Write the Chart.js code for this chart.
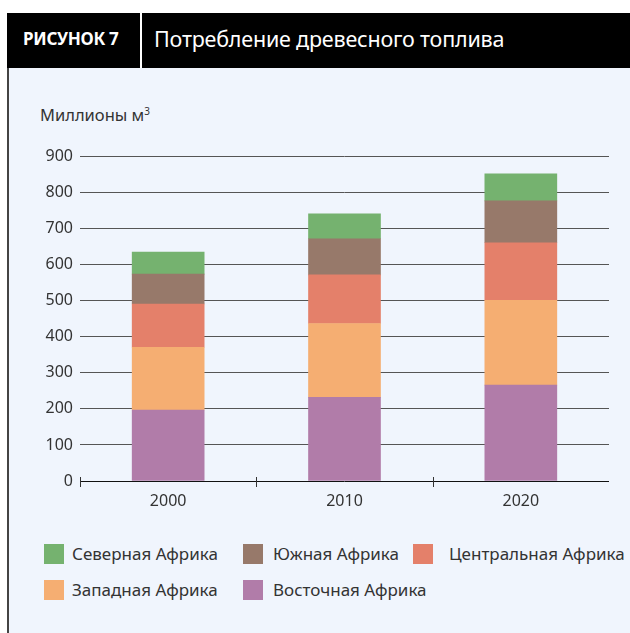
<!DOCTYPE html>
<html>
<head>
<meta charset="utf-8">
<script src="https://cdn.jsdelivr.net/npm/chart.js@4.4.0/dist/chart.umd.min.js"></script>
<style>
  body { margin: 0; background: #fff; font-family: "Noto Sans", sans-serif; }
  #page { position: relative; width: 630px; height: 633px; overflow: hidden; }
  #header { position: absolute; left: 7px; top: 13px; width: 623px; height: 55px; background: #000; color: #fff; }
  #header .fig { position: absolute; left: 16px; top: 14px; font-weight: bold; font-size: 17px; letter-spacing: -0.3px; }
  #header .sep { position: absolute; left: 133px; top: 0; width: 2px; height: 55px; background: #fff; }
  #header .title { position: absolute; left: 147px; top: 11px; font-size: 21.5px; letter-spacing: -0.2px; }
  #panel { position: absolute; left: 7px; top: 68px; width: 623px; height: 565px; background: #f0f5fd; border-left: 2px solid #444; box-sizing: border-box; }
  #unit { position: absolute; left: 40px; top: 103px; font-size: 16.5px; color: #333; }
  #unit sup { font-size: 10px; }
  #wrap { position: absolute; left: 0; top: 140px; width: 630px; height: 373px; }
  #legend { position: absolute; left: 0; top: 0; width: 630px; }
  .item { position: absolute; display: flex; align-items: center; font-size: 17px; color: #333; white-space: nowrap; }
  .item span.box { width: 20px; height: 20px; }
</style>
</head>
<body>
<div id="page">
  <div id="panel"></div>
  <div id="header">
    <div class="fig">РИСУНОК 7</div>
    <div class="sep"></div>
    <div class="title">Потребление древесного топлива</div>
  </div>
  <div id="unit">Миллионы м<sup>3</sup></div>
  <div id="wrap"><canvas id="chart"></canvas></div>
  <div id="legend"></div>
</div>
<script>
// data (million m3)
const years = ['2000', '2010', '2020'];
const yTicks = [0, 100, 200, 300, 400, 500, 600, 700, 800, 900];

const eastAfrica = [197, 232, 266];
const westAfrica = [174, 205, 235];
const centralAfrica = [120, 135, 160];
const southernAfrica = [83, 100, 116];
const northAfrica = [61, 69, 75];

const seriesNames = ['Восточная Африка', 'Западная Африка', 'Центральная Африка', 'Южная Африка', 'Северная Африка'];
const seriesColors = ['#b17ca9', '#f5ae72', '#e4806a', '#97796a', '#75b26f'];
const seriesData = [eastAfrica, westAfrica, centralAfrica, southernAfrica, northAfrica];

// legend order and slots as in the picture: [left, top, gap to text]
const legendOrder = [4, 3, 2, 1, 0];
const legendSlots = [[44, 542, 8], [243, 542, 10], [413, 542, 16], [44, 578, 8], [243, 578, 10]];

// small ticks on the x axis at category boundaries (not at the right end)
const boundaryTicks = {
  id: 'boundaryTicks',
  afterDraw(chart) {
    const ctx = chart.ctx;
    const x = chart.scales.x;
    const y0 = chart.scales.y.getPixelForValue(0);
    const step = x.getPixelForValue(1) - x.getPixelForValue(0);
    ctx.save();
    ctx.strokeStyle = '#333';
    ctx.lineWidth = 1;
    for (let i = 0; i < years.length; i++) {
      const px = Math.round(x.getPixelForValue(i) - step / 2) + 0.5;
      ctx.beginPath();
      ctx.moveTo(px, y0 - 4);
      ctx.lineTo(px, y0 + 6);
      ctx.stroke();
    }
    ctx.restore();
  }
};

const chart = new Chart(document.getElementById('chart'), {
  type: 'bar',
  data: {
    labels: years,
    datasets: seriesData.map((d, i) => ({
      label: seriesNames[i],
      data: d,
      backgroundColor: seriesColors[i],
      borderWidth: 0,
      barThickness: 72
    }))
  },
  options: {
    responsive: true,
    maintainAspectRatio: false,
    animation: false,
    layout: { padding: { top: 16, right: 21, left: 0, bottom: 0 } },
    plugins: {
      legend: { display: false },
      tooltip: { enabled: false }
    },
    scales: {
      x: {
        stacked: true,
        grid: { display: false },
        border: { display: false },
        ticks: { color: '#333', font: { family: 'Noto Sans', size: 16 }, padding: 3 },
        afterFit(s) { s.height = 32; }
      },
      y: {
        stacked: true,
        min: 0,
        max: 900,
        afterBuildTicks(s) { s.ticks = yTicks.map(v => ({ value: v })); },
        grid: {
          color: c => c.tick && c.tick.value === 0 ? '#111' : '#555',
          lineWidth: 1,
          drawTicks: false
        },
        border: { display: false },
        ticks: { color: '#333', font: { family: 'Noto Sans', size: 16 }, padding: 7 },
        afterFit(s) { s.width = 80; }
      }
    }
  },
  plugins: [boundaryTicks]
});

// html legend built from the chart's datasets
const legend = document.getElementById('legend');
legendOrder.forEach((idx, k) => {
  const ds = chart.data.datasets[idx];
  const el = document.createElement('div');
  el.className = 'item';
  el.style.left = legendSlots[k][0] + 'px';
  el.style.top = legendSlots[k][1] + 'px';
  el.innerHTML = '<span class="box" style="background:' + ds.backgroundColor + ';margin-right:' + legendSlots[k][2] + 'px"></span>' + ds.label;
  legend.appendChild(el);
});
</script>
</body>
</html>
